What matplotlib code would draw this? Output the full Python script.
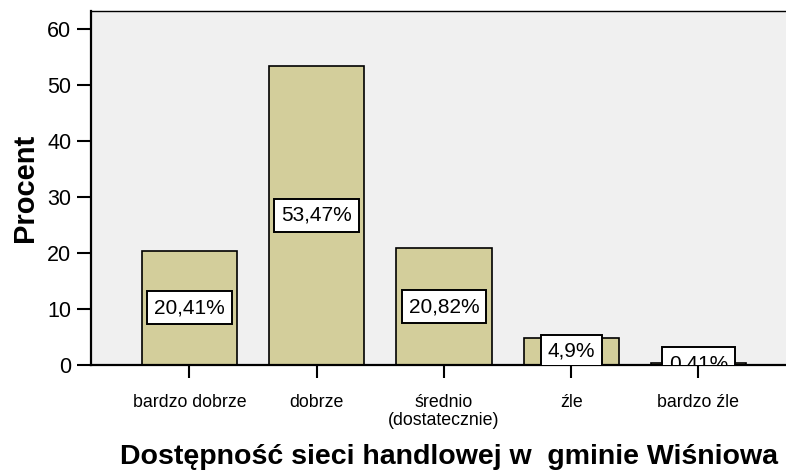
import matplotlib
matplotlib.use("Agg")
import matplotlib.pyplot as plt

categories = ["bardzo dobrze", "dobrze", "średnio\n(dostatecznie)", "źle", "bardzo źle"]
values = [20.41, 53.47, 20.82, 4.90, 0.41]
labels = ["20,41%", "53,47%", "20,82%", "4,9%", "0,41%"]
yticks = [0, 10, 20, 30, 40, 50, 60]

plt.rcParams['font.family'] = ['Liberation Sans', 'DejaVu Sans']

fig = plt.figure(figsize=(7.86, 4.74), dpi=100)
ax = fig.add_axes([90.7/786, 1 - 365/474, 1 - 90.7/786 + 0.002, (365 - 10.7)/474])
ax.set_facecolor('#F0F0F0')

x = list(range(len(categories)))
ax.bar(x, values, width=0.75, color='#D3CE9B', edgecolor='black', linewidth=1.2, zorder=2)

for xi, v, lab in zip(x, values, labels):
    ax.text(xi, v / 2, lab, ha='center', va='center', fontsize=15, zorder=5,
            bbox=dict(boxstyle='square,pad=0.33', facecolor='white', edgecolor='black', linewidth=1.4),
            clip_on=True)

ax.set_xlim(-0.776, 4.70)
ax.set_ylim(0, 63.27)
ax.set_yticks(yticks)
ax.set_yticklabels([str(t) for t in yticks])
ax.set_xticks(x)
ax.set_xticklabels(categories, fontsize=12.8, linespacing=1.05)

ax.tick_params(axis='y', direction='out', length=10, width=1.5, labelsize=15.5, pad=4)
ax.tick_params(axis='x', direction='out', length=9, width=1.5, pad=12)

for s in ['left', 'bottom']:
    ax.spines[s].set_linewidth(1.6)
ax.spines['top'].set_linewidth(1.0)
ax.spines['right'].set_visible(False)

ax.set_ylabel("Procent", fontsize=21, fontweight='bold', labelpad=6)
fig.text(449/786, 1 - 457/474, "Dostępność sieci handlowej w  gminie Wiśniowa",
         ha='center', va='center', fontsize=20.5, fontweight='bold')

fig.savefig("out.png", dpi=100)
